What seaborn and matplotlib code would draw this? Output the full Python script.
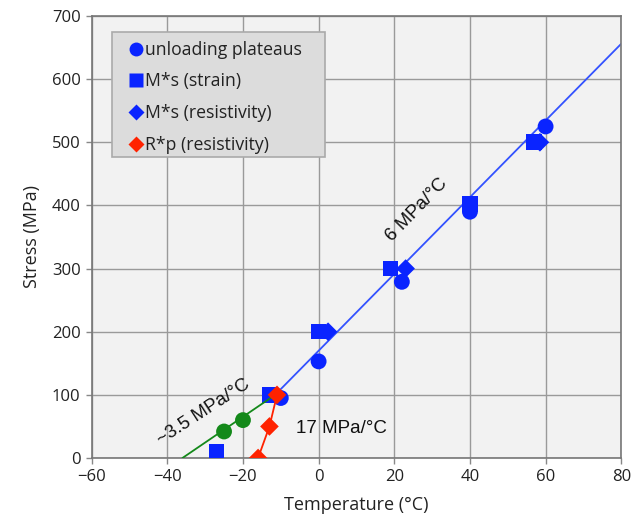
import matplotlib
matplotlib.use("Agg")
import matplotlib.pyplot as plt
import seaborn as sns
from matplotlib.lines import Line2D
from matplotlib.patches import Rectangle

# ---- data ----
plateau_T = [-10, 0, 22, 40, 60]
plateau_S = [95, 153, 279, 390, 525]
ms_strain_T = [-27, -13, 0, 19, 40, 57]
ms_strain_S = [10, 100, 200, 300, 402, 500]
ms_res_T = [2.5, 23, 58.5]
ms_res_S = [200, 300, 500]
rp_T = [-16, -13, -11]
rp_S = [0, 50, 100]
green_T = [-25, -20]
green_S = [42, 60]
fit_blue_T = [-11.5, 80]
fit_blue_S = [100, 656]
fit_green_T = [-36, -11]
fit_green_S = [0, 102]
x_ticks = [-60, -40, -20, 0, 20, 40, 60, 80]
y_ticks = [0, 100, 200, 300, 400, 500, 600, 700]
legend_labels = ["unloading plateaus", "M*s (strain)", "M*s (resistivity)", "R*p (resistivity)"]

BLUE = "#0a24ff"
LBLUE = "#3352ff"
RED = "#ff2200"
GREEN = "#14891a"

sns.set_theme(style="whitegrid")
plt.rcParams["font.family"] = ["Open Sans", "DejaVu Sans"]

fig = plt.figure(figsize=(6.32, 5.25), dpi=100)
ax = fig.add_axes([0.145, 0.1276, 0.838, 0.842])
ax.set_facecolor("#f2f2f2")

sns.lineplot(x=fit_blue_T, y=fit_blue_S, ax=ax, color=LBLUE, lw=1.3, zorder=2)
sns.scatterplot(x=plateau_T, y=plateau_S, ax=ax, marker="o", s=130, color=BLUE, edgecolor="none", zorder=3)
sns.scatterplot(x=ms_strain_T, y=ms_strain_S, ax=ax, marker="s", s=125, color=BLUE, edgecolor="none", zorder=3)
sns.scatterplot(x=ms_res_T, y=ms_res_S, ax=ax, marker="D", s=90, color=BLUE, edgecolor="none", zorder=3)
sns.scatterplot(x=green_T, y=green_S, ax=ax, marker="o", s=130, color=GREEN, edgecolor="none", zorder=3)
sns.lineplot(x=fit_green_T, y=fit_green_S, ax=ax, color=GREEN, lw=1.3, zorder=4)
sns.lineplot(x=rp_T, y=rp_S, ax=ax, color=RED, lw=1.3, zorder=4, sort=False)
sns.scatterplot(x=rp_T, y=rp_S, ax=ax, marker="D", s=90, color=RED, edgecolor="none", zorder=5)

ax.set_xlim(-60, 80)
ax.set_ylim(0, 700)
ax.set_xticks(x_ticks)
ax.set_yticks(y_ticks)
ax.grid(True, color="#9a9a9a", lw=1.0)
ax.set_axisbelow(True)
for sp in ax.spines.values():
    sp.set_color("#777777")
    sp.set_linewidth(1.2)
ax.tick_params(axis="both", which="major", length=4, width=1, color="#888888",
               labelsize=12, labelcolor="#222222", pad=4, bottom=True, left=True)
ax.set_xlabel("Temperature (°C)", fontsize=13, color="#222222", labelpad=8)
ax.set_ylabel("Stress (MPa)", fontsize=13, color="#222222", labelpad=8)

ann_font = ["Liberation Sans", "DejaVu Sans"]
ax.text(26, 393, "6 MPa/°C", rotation=46, ha="center", va="center", fontsize=13.5,
        color="#111111", family=ann_font)
ax.text(-30.5, 73, "~3.5 MPa/°C", rotation=33, ha="center", va="center", fontsize=13.5,
        color="#111111", family=ann_font)
ax.text(6.1, 47, "17 MPa/°C", rotation=0, ha="center", va="center", fontsize=13.5,
        color="#111111", family=ann_font)

# legend box
box = Rectangle((0.038, 0.681), 0.403, 0.283, transform=ax.transAxes,
                facecolor="#dcdcdc", edgecolor="#aaaaaa", lw=1.2, zorder=6)
ax.add_patch(box)

handles = [
    Line2D([], [], ls="none", marker="o", ms=10, color=BLUE, mec="none"),
    Line2D([], [], ls="none", marker="s", ms=10, color=BLUE, mec="none"),
    Line2D([], [], ls="none", marker="D", ms=8, color=BLUE, mec="none"),
    Line2D([], [], ls="none", marker="D", ms=8, color=RED, mec="none"),
]
leg = ax.legend(handles, legend_labels, loc="upper left", bbox_to_anchor=(0.072, 0.944),
                borderaxespad=0, fontsize=12.7, frameon=False,
                handlelength=0.75, handletextpad=0.1, labelspacing=0.78,
                borderpad=0)
leg.set_zorder(7)
for t in leg.get_texts():
    t.set_color("#222222")

fig.savefig("out.png", dpi=100)
